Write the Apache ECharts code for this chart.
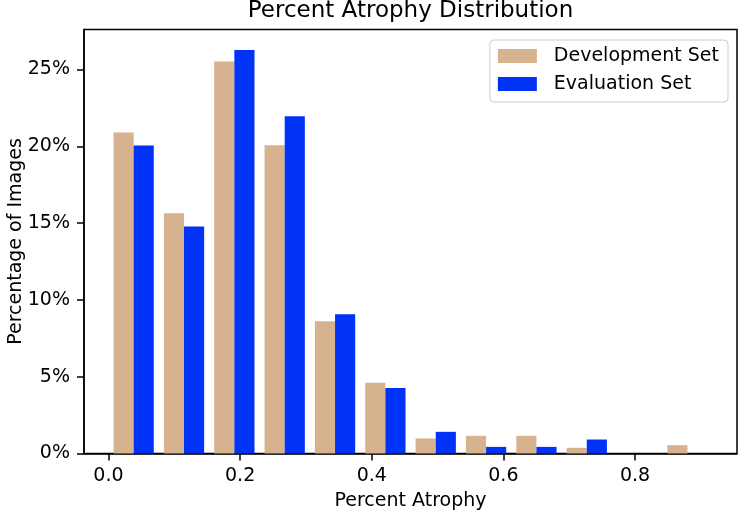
<!DOCTYPE html>
<html>
<head>
<meta charset="utf-8">
<script src="https://cdn.jsdelivr.net/npm/echarts@6/dist/echarts.min.js"></script>
<style>
html,body{margin:0;padding:0;background:#fff;}
#chart{width:739px;height:514px;}
</style>
</head>
<body>
<div id="chart"></div>
<script>
// Histogram bins (left edges) and bin width
const binStarts = [0.0000, 0.0765, 0.1530, 0.2295, 0.3060, 0.3825, 0.4590, 0.5355, 0.6120, 0.6885, 0.7650, 0.8415];
const BIN_W = 0.0765;
// Percentage of images per bin
const devValues  = [20.90, 15.64, 25.52, 20.07, 8.61, 4.60, 0.98, 1.15, 1.15, 0.37, 0, 0.54];
const evalValues = [20.05, 14.78, 26.26, 21.96, 9.07, 4.27, 1.41, 0.43, 0.43, 0.91, 0, 0.00];
const xTicks = [0.0, 0.2, 0.4, 0.6, 0.8];
const yTicks = [0, 5, 10, 15, 20, 25];

const FONT = 'DejaVu Sans';
const DEV_COLOR = '#D6B28F';
const EVAL_COLOR = '#0033F5';

function makeRender(offset, color) {
  return function (params, api) {
    const s = api.value(0), v = api.value(1);
    if (!v) return null;
    const p0 = api.coord([s + offset * BIN_W, v]);
    const p1 = api.coord([s + (offset + 0.4) * BIN_W, 0]);
    return {
      type: 'rect',
      shape: { x: p0[0], y: p0[1], width: p1[0] - p0[0], height: p1[1] - p0[1] },
      style: { fill: color }
    };
  };
}

const chart = echarts.init(document.getElementById('chart'), null, { renderer: 'canvas' });
chart.setOption({
  animation: false,
  backgroundColor: '#fff',
  textStyle: { fontFamily: FONT },
  graphic: [{
    type: 'text',
    x: 410.5, y: 11,
    style: {
      text: 'Percent Atrophy Distribution',
      font: '23px "DejaVu Sans"',
      fill: '#000',
      align: 'center',
      verticalAlign: 'middle'
    }
  }],
  grid: {
    left: 84, right: 2, top: 29.5, bottom: 60.5,
    containLabel: false, outerBoundsMode: 'none',
    show: true, borderColor: '#000', borderWidth: 1.5, backgroundColor: 'transparent'
  },
  legend: {
    orient: 'vertical',
    right: 11, top: 40,
    padding: [5, 9, 7, 8],
    itemWidth: 39, itemHeight: 14, itemGap: 6,
    icon: 'rect',
    borderColor: '#cccccc', borderWidth: 1, borderRadius: 4,
    backgroundColor: 'rgba(255,255,255,0.8)',
    textStyle: { fontFamily: FONT, fontSize: 19, color: '#000', lineHeight: 22, padding: [0, 0, 0, 12] },
    data: [
      { name: 'Development Set', itemStyle: { color: DEV_COLOR } },
      { name: 'Evaluation Set', itemStyle: { color: EVAL_COLOR } }
    ]
  },
  xAxis: {
    type: 'value',
    min: -0.0372, max: 0.955,
    name: 'Percent Atrophy',
    nameLocation: 'middle', nameGap: 38, nameMoveOverlap: false,
    nameTextStyle: { fontFamily: FONT, fontSize: 19, color: '#000' },
    axisLine: { show: true, onZero: false, lineStyle: { color: '#000', width: 1.5 } },
    axisTick: { show: true, length: 7, lineStyle: { color: '#000', width: 1.5 }, customValues: xTicks },
    axisLabel: { fontFamily: FONT, fontSize: 19, color: '#000', margin: 13, customValues: xTicks,
      formatter: v => Number(v).toFixed(1) },
    splitLine: { show: false }
  },
  yAxis: {
    type: 'value',
    min: 0, max: 27.6,
    name: 'Percentage of Images',
    nameLocation: 'middle', nameGap: 58, nameMoveOverlap: false,
    nameTextStyle: { fontFamily: FONT, fontSize: 19, color: '#000' },
    axisLine: { show: true, onZero: false, lineStyle: { color: '#000', width: 1.5 } },
    axisTick: { show: true, length: 7, lineStyle: { color: '#000', width: 1.5 }, customValues: yTicks },
    axisLabel: { fontFamily: FONT, fontSize: 19, color: '#000', margin: 14, customValues: yTicks,
      formatter: v => Math.round(v) + '%' },
    splitLine: { show: false }
  },
  series: [
    {
      name: 'Development Set',
      type: 'custom',
      itemStyle: { color: DEV_COLOR },
      renderItem: makeRender(0.1, DEV_COLOR),
      encode: { x: 0, y: 1 },
      data: binStarts.map((s, i) => [s, devValues[i]])
    },
    {
      name: 'Evaluation Set',
      type: 'custom',
      itemStyle: { color: EVAL_COLOR },
      renderItem: makeRender(0.5, EVAL_COLOR),
      encode: { x: 0, y: 1 },
      data: binStarts.map((s, i) => [s, evalValues[i]])
    }
  ]
});
</script>
</body>
</html>
